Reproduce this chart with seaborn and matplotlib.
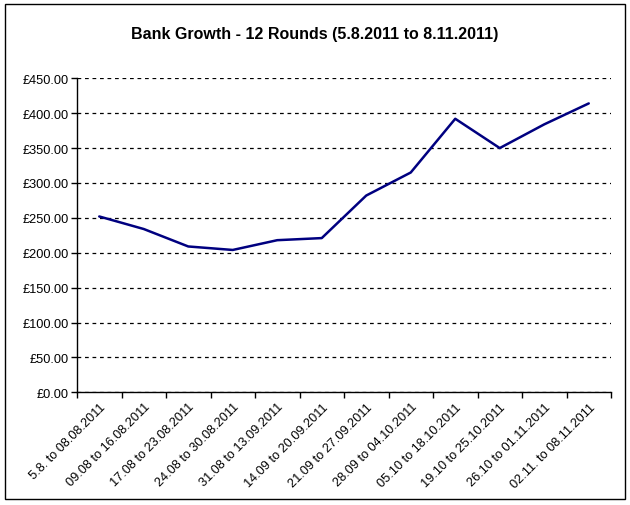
import matplotlib
matplotlib.use("Agg")
import matplotlib.pyplot as plt
import matplotlib.patches as mpatches
import seaborn as sns
import pandas as pd
import numpy as np

title = "Bank Growth - 12 Rounds (5.8.2011 to 8.11.2011)"
periods = ["5.8. to 08.08.2011", "09.08 to 16.08.2011", "17.08 to 23.08.2011",
           "24.08 to 30.08.2011", "31.08 to 13.09.2011", "14.09 to 20.09.2011",
           "21.09 to 27.09.2011", "28.09 to 04.10.2011", "05.10 to 18.10.2011",
           "19.10 to 25.10.2011", "26.10 to 01.11.2011", "02.11. to 08.11.2011"]
bank = [252, 234, 209, 204, 218, 221, 282, 315, 392, 350, 384, 414]
y_ticks = [0, 50, 100, 150, 200, 250, 300, 350, 400, 450]

sns.set_theme(style="white")
plt.rcParams['font.family'] = ['Liberation Sans', 'DejaVu Sans']
plt.rcParams['text.color'] = 'black'
plt.rcParams['xtick.color'] = 'black'
plt.rcParams['ytick.color'] = 'black'

df = pd.DataFrame({"pos": np.arange(len(periods)) + 0.5, "value": bank})

fig = plt.figure(figsize=(6.3, 5.06), dpi=100)
ax = fig.add_axes([77/630, 1 - 393.3/506, (611-77)/630, (393.3-79.3)/506])

sns.lineplot(data=df, x="pos", y="value", ax=ax, color="#000080", linewidth=1.8)

ax.set_xlim(0, len(periods))
ax.set_ylim(0, 450)
ax.set_yticks(y_ticks)
ax.set_yticklabels([f"£{v:.2f}" for v in y_ticks], fontsize=9.2)
ax.set_xticks(np.arange(len(periods) + 1))
ax.set_xticklabels([])
ax.set_xticks(df["pos"], minor=True)
ax.set_xticklabels(periods, minor=True, rotation=45, ha="right",
                   rotation_mode="anchor", fontsize=9.2)
ax.tick_params(axis="x", which="minor", length=0, pad=6)
ax.tick_params(axis="x", which="major", length=4, width=1, color="black", direction="out", bottom=True)
ax.tick_params(axis="y", which="major", length=4, width=1, color="black", direction="out", left=True, pad=2)
ax.set_xlabel("")
ax.set_ylabel("")
ax.yaxis.grid(True, color="black", linestyle=(0, (3, 3)), linewidth=0.9)
ax.set_axisbelow(True)
for s in ["top", "right"]:
    ax.spines[s].set_visible(False)
for s in ["left", "bottom"]:
    ax.spines[s].set_color("black")
    ax.spines[s].set_linewidth(1.0)

fig.text(315/630, 1 - 35/506, title, ha="center", va="center",
         fontsize=11.5, fontweight="bold", color="black")

border = mpatches.Rectangle((4.5/630, 1 - 500/506), (625-4.5)/630, (500-5)/506,
                            transform=fig.transFigure, fill=False,
                            edgecolor="black", linewidth=1.0)
fig.patches.append(border)

fig.savefig("out.png", dpi=100, facecolor="white")
